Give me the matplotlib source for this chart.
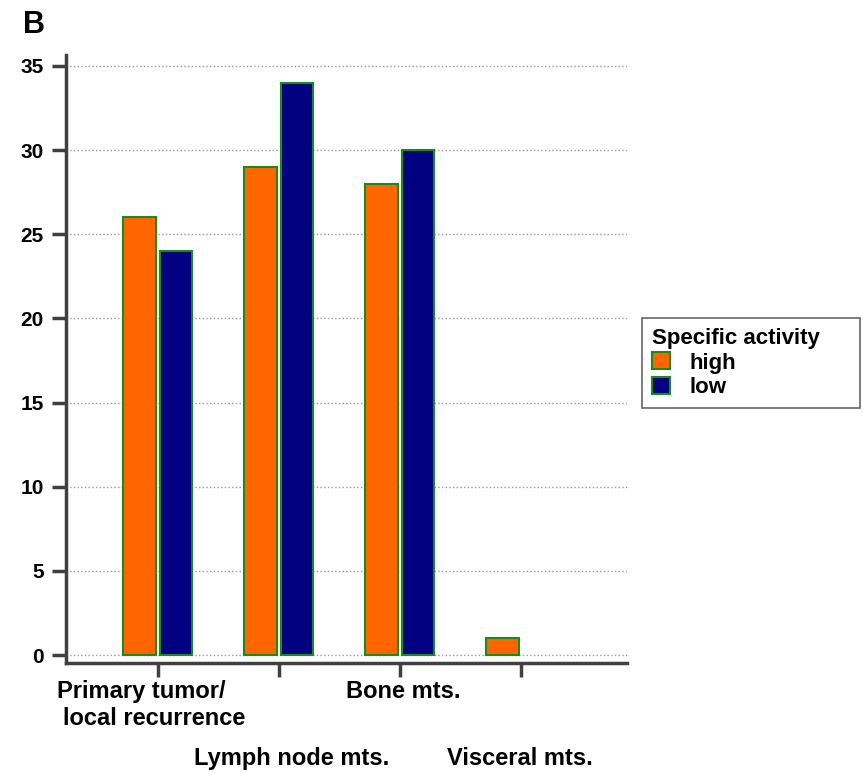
import matplotlib
matplotlib.use('Agg')
from matplotlib import pyplot as plt
import numpy as np

categories = ['Primary tumor/\nlocal recurrence', 'Lymph node mts.', 'Bone mts.', 'Visceral mts.']
high = [26, 29, 28, 1]
low = [24, 34, 30, 0]

plt.rcParams['font.family'] = ['Liberation Sans', 'DejaVu Sans']
plt.rcParams['font.weight'] = 'bold'

fig = plt.figure(figsize=(8.63, 7.73), dpi=100)
ax = fig.add_axes([0.0765, 0.1423, 0.65, 0.7865])

x = np.arange(len(categories))
w = 0.27
ax.bar(x - 0.15, high, width=w, color='#ff6600', edgecolor='#1a8a1a', linewidth=1.5,
       label='high', zorder=3)
ax.bar(x + 0.15, [v if v > 0 else np.nan for v in low], width=w, color='#000080',
       edgecolor='#1a8a1a', linewidth=1.5, label='low', zorder=3)

ax.set_xlim(-0.76, 3.876)
ax.set_ylim(-0.47, 35.65)
ax.set_yticks(range(0, 36, 5))
ax.set_xticks(x)
ax.set_xticklabels([])

# staggered category labels (first one is two lines, slightly indented second line)
line1, line2 = categories[0].split('\n')
ax.text(-0.835, -1.5, line1, ha='left', va='top', fontsize=17, fontweight='bold')
ax.text(-0.785, -3.1, line2, ha='left', va='top', fontsize=17, fontweight='bold')
ax.text(1.105, -5.45, categories[1], ha='center', va='top', fontsize=17, fontweight='bold')
ax.text(2.03, -1.5, categories[2], ha='center', va='top', fontsize=17, fontweight='bold')
ax.text(2.99, -5.45, categories[3], ha='center', va='top', fontsize=17, fontweight='bold')

ax.grid(axis='y', linestyle=':', color='#999999', linewidth=1, zorder=0)
ax.spines['top'].set_visible(False)
ax.spines['right'].set_visible(False)
for s in ['left', 'bottom']:
    ax.spines[s].set_linewidth(2.5)
    ax.spines[s].set_color('#404040')
ax.tick_params(axis='y', length=10, width=2.5, color='#404040', labelsize=15, pad=6)
ax.tick_params(axis='x', length=10, width=2.5, color='#404040')

leg_h = (406 - 318) / 773
leg = fig.legend(title='Specific activity', loc='upper left',
                 bbox_to_anchor=(0.7439, 0.5886 - leg_h, (860 - 642) / 863, leg_h),
                 mode='expand', fontsize=16, title_fontsize=16, fancybox=False,
                 edgecolor='#404040', handlelength=0.8, handleheight=0.8, borderpad=0.45,
                 labelspacing=0.15, handletextpad=0.9, borderaxespad=0)
leg.get_title().set_fontweight('bold')
leg._legend_box.align = 'left'
leg.get_frame().set_linewidth(1.2)

fig.text(0.027, 0.957, 'B', fontsize=22, fontweight='bold')

plt.savefig('out.png')
plt.close()
